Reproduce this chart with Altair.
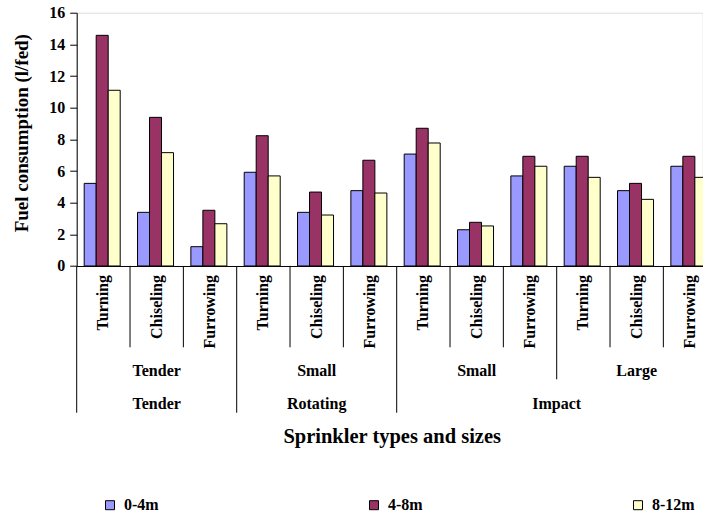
import altair as alt
import pandas as pd

# Category hierarchy along the x axis (one entry per bar group)
operations = ["Turning", "Chiseling", "Furrowing"] * 4
sizes = ["Tender"] * 3 + ["Small"] * 3 + ["Small"] * 3 + ["Large"] * 3
types = ["Tender"] * 3 + ["Rotating"] * 3 + ["Impact"] * 6

# Sprinkler spacing series and fuel consumption (l/fed)
spacings = ["0-4m", "4-8m", "8-12m"]
fuel_0_4 = [5.22, 3.39, 1.22, 5.92, 3.39, 4.76, 7.07, 2.29, 5.69, 6.30, 4.76, 6.30]
fuel_4_8 = [14.57, 9.39, 3.52, 8.23, 4.67, 6.68, 8.70, 2.76, 6.93, 6.93, 5.22, 6.93]
fuel_8_12 = [11.10, 7.16, 2.67, 5.69, 3.22, 4.61, 7.77, 2.53, 6.30, 5.60, 4.21, 5.60]
colors = ["#9999FF", "#993366", "#FFFFCC"]

y_ticks = list(range(0, 17, 2))

FONT = "Liberation Serif"
W = 626        # visible plot width
SPAN = 640     # full extent of the 12 groups (the last one runs past the edge)
H = 253.3
N = len(operations)

# ---- tables -------------------------------------------------------------
rows = []
for s, series in zip(spacings, [fuel_0_4, fuel_4_8, fuel_8_12]):
    for i, v in enumerate(series):
        rows.append({"slot": i, "spacing": s, "fuel": v})
bars_df = pd.DataFrame(rows)

ops_df = pd.DataFrame({"mid": [i + 0.5 for i in range(N)], "label": operations})


def runs(keys):
    """Consecutive runs of equal keys -> (start, end, key)."""
    out, start = [], 0
    for i in range(1, N + 1):
        if i == N or keys[i] != keys[start]:
            out.append((start, i, keys[start]))
            start = i
    return out


size_runs = runs(list(zip(types, sizes)))
size_df = pd.DataFrame({"mid": [(a + b) / 2 for a, b, _ in size_runs],
                        "label": [k[1] for _, _, k in size_runs]})
type_runs = runs(types)
type_df = pd.DataFrame({"mid": [(a + b) / 2 for a, b, _ in type_runs],
                        "label": [k for _, _, k in type_runs]})

bounds = []
for b in range(N + 1):
    if b == 0 or b == N or types[b] != types[b - 1]:
        level = "type"
    elif sizes[b] != sizes[b - 1]:
        level = "size"
    else:
        level = "op"
    bounds.append({"b": b, "level": level})
bounds_df = pd.DataFrame(bounds)

# ---- bars ---------------------------------------------------------------
bars = alt.Chart(bars_df).mark_bar(stroke="black", strokeWidth=1).encode(
    x=alt.X(
        "slot:O",
        scale=alt.Scale(domain=list(range(N)), range=[0, SPAN],
                        paddingInner=0, paddingOuter=0),
        axis=alt.Axis(
            title="Sprinkler types and sizes", labels=False, ticks=False,
            domain=True, domainColor="black", domainWidth=1,
            titleFont=FONT, titleFontSize=20.5, titleFontWeight="bold",
            titleColor="black", titleX=315, titleY=170.7,
            titleAlign="center", titleBaseline="middle",
        ),
    ),
    xOffset=alt.XOffset("spacing:N",
                        scale=alt.Scale(domain=spacings, range=[7.5, 43.5])),
    y=alt.Y(
        "fuel:Q",
        scale=alt.Scale(domain=[0, 16], nice=False),
        axis=alt.Axis(
            title="Fuel consumption (l/fed)", values=y_ticks, grid=False,
            domainColor="black", tickColor="black", tickSize=7,
            labelFont=FONT, labelFontSize=16, labelFontWeight="bold",
            labelColor="black", labelPadding=5,
            titleFont=FONT, titleFontSize=19, titleFontWeight="bold",
            titleColor="black", titleAngle=270, titleX=-55, titleY=120,
            titleAlign="center", titleBaseline="middle",
        ),
    ),
    fill=alt.Fill(
        "spacing:N",
        scale=alt.Scale(domain=spacings, range=colors),
        legend=alt.Legend(
            title=None, orient="none", legendX=25.3, legendY=484.5,
            direction="horizontal", columns=3, columnPadding=207,
            symbolType="square", symbolSize=81, symbolStrokeColor="black",
            symbolStrokeWidth=1, labelFont=FONT, labelFontSize=16,
            labelFontWeight="bold", labelColor="black", labelOffset=6,
            padding=0,
        ),
    ),
)

# ---- hierarchical category labels below the axis ------------------------
slot_x = dict(scale=alt.Scale(domain=[0, N], range=[0, SPAN], nice=False, zero=False),
              axis=None)

op_text = alt.Chart(ops_df).mark_text(
    font=FONT, fontSize=16, fontWeight="bold", color="black",
    angle=270, align="right", baseline="middle",
).encode(x=alt.X("mid:Q", **slot_x), y=alt.value(H + 9), text="label:N")

size_text = alt.Chart(size_df).mark_text(
    font=FONT, fontSize=16, fontWeight="bold", color="black",
    align="center", baseline="middle",
).encode(x=alt.X("mid:Q", **slot_x), y=alt.value(H + 105), text="label:N")

type_text = alt.Chart(type_df).mark_text(
    font=FONT, fontSize=16, fontWeight="bold", color="black",
    align="center", baseline="middle",
).encode(x=alt.X("mid:Q", **slot_x), y=alt.value(H + 138), text="label:N")

rule_len = {"op": 81.3, "size": 113.3, "type": 146.7}
seps = [
    alt.Chart(bounds_df).transform_filter(alt.datum.level == lvl)
    .mark_rule(color="black", strokeWidth=1)
    .encode(x=alt.X("b:Q", **slot_x), y=alt.value(H), y2=alt.value(H + ln))
    for lvl, ln in rule_len.items()
]

chart = (
    alt.layer(bars, op_text, size_text, type_text, *seps)
    .resolve_scale(x="independent")
    .properties(
        width=W, height=H,
        autosize=alt.AutoSizeParams(type="none"),
        padding={"left": 76.7, "top": 12.7, "right": 0, "bottom": 251},
    )
    .configure_view(stroke=None)
    .configure(background="white")
)

chart.save("out.html", embed_options={"renderer": "svg", "actions": False})
